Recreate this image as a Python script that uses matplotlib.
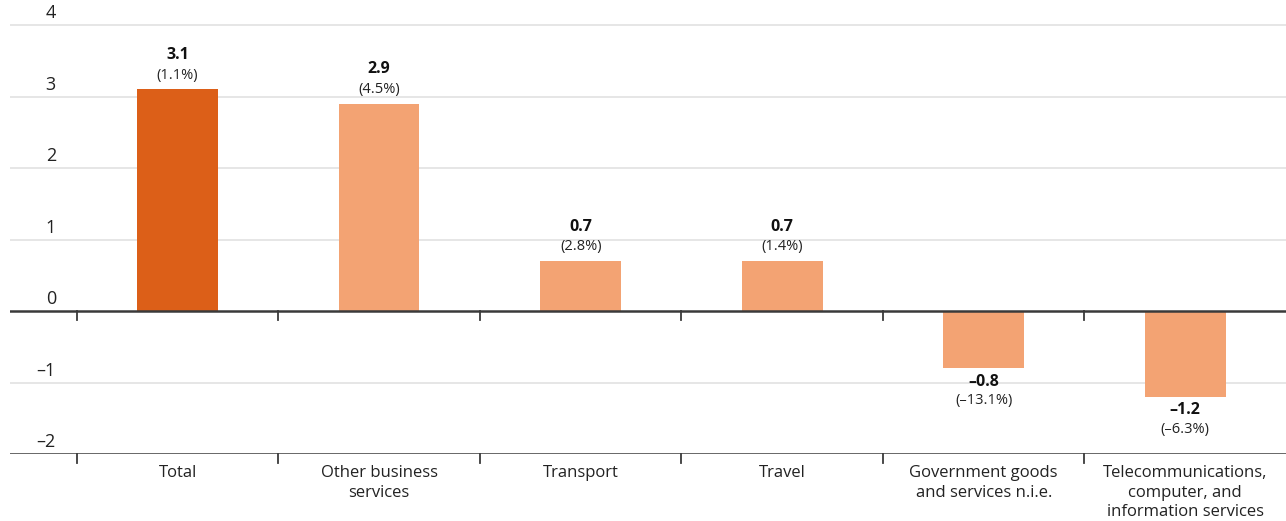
import matplotlib.pyplot as plt
from matplotlib.transforms import blended_transform_factory

plt.rcParams['font.family'] = ['Open Sans', 'DejaVu Sans']

# --- Data ---
categories = ['Total', 'Other business\nservices', 'Transport', 'Travel',
              'Government goods\nand services n.i.e.',
              'Telecommunications,\ncomputer, and\ninformation services']
values = [3.1, 2.9, 0.7, 0.7, -0.8, -1.2]
pct_labels = ['(1.1%)', '(4.5%)', '(2.8%)', '(1.4%)', '(\u201313.1%)', '(\u20136.3%)']
value_labels = ['3.1', '2.9', '0.7', '0.7', '\u20130.8', '\u20131.2']
yticks = [-2, -1, 0, 1, 2, 3, 4]
ytick_labels = ['\u20132', '\u20131', '0', '1', '2', '3', '4']

dark_orange = '#DC5F18'
light_orange = '#F3A373'
colors = [dark_orange] + [light_orange] * (len(values) - 1)

fig = plt.figure(figsize=(12.86, 5.21), dpi=100)
ax = fig.add_axes([10 / 1286, 67 / 521, 1 - 10 / 1286, (521 - 18 - 67) / 521])

x = list(range(len(categories)))
ax.bar(x, values, width=0.4, color=colors, zorder=3)

ax.set_xlim(-0.832, 5.5)
ax.set_ylim(-2, 4.1)

# gridlines, with the zero line and the bottom line drawn darker
for yv in yticks:
    if yv in (0, -2):
        ax.axhline(yv, color='#3a3a3a', lw=1.8, zorder=4)
    else:
        ax.axhline(yv, color='#e2e2e2', lw=1.2, zorder=1)

# y tick labels sit above the gridlines on the left
trans = blended_transform_factory(ax.transAxes, ax.transData)
for yv, lab in zip(yticks, ytick_labels):
    ax.text(0.036, yv + 0.04, lab, transform=trans, ha='right', va='bottom',
            fontsize=13, color='#222222')

# category separators at the zero line and at the bottom
for b in [i - 0.5 for i in range(len(categories))]:
    ax.plot([b, b], [0, -0.12], color='#3a3a3a', lw=1.3, zorder=4, clip_on=False)
    ax.plot([b, b], [-2, -2.12], color='#3a3a3a', lw=1.3, zorder=4, clip_on=False)

# value labels
for xi, v, vl, pl in zip(x, values, value_labels, pct_labels):
    if v >= 0:
        ax.annotate(pl, (xi, v), xytext=(0, 5), textcoords='offset points',
                    ha='center', va='bottom', fontsize=10.5, color='#222222')
        ax.annotate(vl, (xi, v), xytext=(0, 19), textcoords='offset points',
                    ha='center', va='bottom', fontsize=11.5, fontweight='bold',
                    color='#111111')
    else:
        ax.annotate(vl, (xi, v), xytext=(0, -4), textcoords='offset points',
                    ha='center', va='top', fontsize=11.5, fontweight='bold',
                    color='#111111')
        ax.annotate(pl, (xi, v), xytext=(0, -18), textcoords='offset points',
                    ha='center', va='top', fontsize=10.5, color='#222222')

# category labels under the bottom axis
for xi, c in zip(x, categories):
    ax.text(xi, -2.15, c, ha='center', va='top', fontsize=12, color='#222222',
            linespacing=1.32)

ax.set_xticks([])
ax.set_yticks([])
for s in ax.spines.values():
    s.set_visible(False)

fig.savefig('out.png', dpi=100)
